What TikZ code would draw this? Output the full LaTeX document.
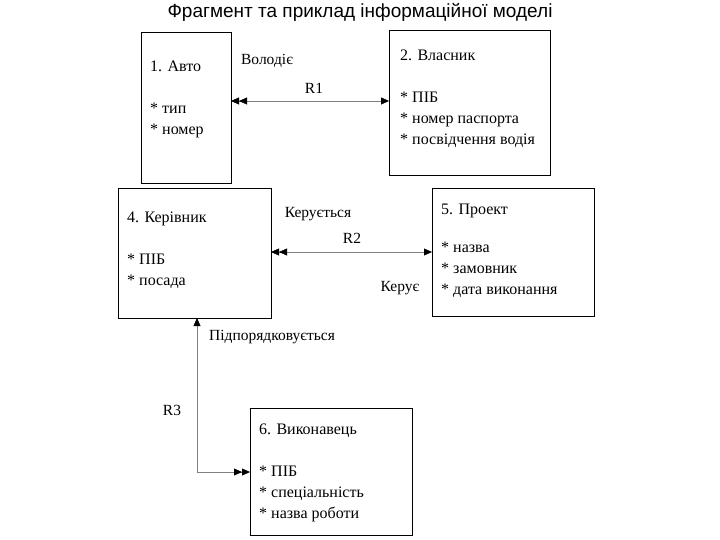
\documentclass[tikz,border=0pt]{standalone}
\usepackage{fontspec}
\setmainfont{Liberation Serif}
\newfontfamily\titlefont{Liberation Sans}
\usetikzlibrary{arrows.meta, positioning}

\begin{document}
\begin{tikzpicture}[
    x=1pt, y=-1pt,
    box/.style = {rectangle, draw, thick, inner sep=0pt, anchor=north west},
    txt/.style = {anchor=north west, align=left, inner sep=0pt, font=\fontsize{16}{21}\selectfont},
    lbl/.style = {inner sep=1pt, font=\fontsize{15.5}{17}\selectfont},
    rel/.style = {draw=black!50, {Triangle[black,length=8pt,width=7pt]Triangle[black,length=8pt,width=7pt]}-{Triangle[black,length=8pt,width=7pt]}},
    font=\small
    ]
  \useasboundingbox (0,0) rectangle (720,540);

  \node[font=\titlefont\fontsize{19}{21}\selectfont] (title) at (360,12) {Фрагмент та приклад інформаційної моделі};

  % boxes
  \node[box, minimum width=90, minimum height=151] (auto) at (141,32) {};
  \node[box, minimum width=161, minimum height=145] (owner) at (389,30) {};
  \node[box, minimum width=153, minimum height=130] (boss) at (118,188) {};
  \node[box, minimum width=162, minimum height=128] (proj) at (432,188) {};
  \node[box, minimum width=162, minimum height=127] (exec) at (250,408) {};

  % box texts
  \node[txt] (autoT) at (150,61) {1. Авто\\ \\* тип\\* номер};
  \node[txt] (ownerT) at (400,50) {2. Власник\\ \\* ПІБ\\* номер паспорта\\* посвідчення водія};
  \node[txt] (bossT) at (127,212) {4. Керівник\\ \\* ПІБ\\* посада};
  \node[txt] (projT) at (441,204) {5. Проект\\[-4pt] \\* назва\\* замовник\\* дата виконання};
  \node[txt] (execT) at (259,424) {6. Виконавець\\ \\* ПІБ\\* спеціальність\\* назва роботи};

  % relations
  \coordinate (r1a) at (231,101);
  \coordinate (r1b) at (389,101);
  \draw[rel] (r1a) -- (r1b);
  \node[lbl] (r1) at (314,88) {R1};
  \node[lbl] (owns) at (267,61) {Володіє};

  \coordinate (r2a) at (271,252);
  \coordinate (r2b) at (432,252);
  \draw[rel] (r2a) -- (r2b);
  \node[lbl] (r2) at (352,238) {R2};
  \node[lbl] (managed) at (318,214) {Керується};
  \node[lbl] (manages) at (400,288) {Керує};

  \coordinate (r3a) at (197,318);
  \coordinate (r3c) at (197,472);
  \coordinate (r3b) at (250,472);
  \draw[rel] (r3b) -- (r3c) -- (r3a);
  \node[lbl] (r3) at (172,410) {R3};
  \node[lbl] (sub) at (272,337) {Підпорядковується};
\end{tikzpicture}
\end{document}
